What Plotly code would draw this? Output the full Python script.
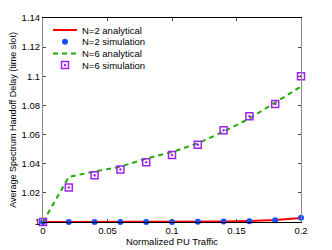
import plotly.graph_objects as go

x_vals = [0, 0.02, 0.04, 0.06, 0.08, 0.10, 0.12, 0.14, 0.16, 0.18, 0.20]
n2_analytical = [1.0, 1.0, 1.0, 1.0, 1.0, 1.0, 1.0002, 1.0004, 1.0007, 1.0013, 1.0028]
n2_simulation = [1.0, 1.0, 1.0, 1.0, 1.0, 1.0, 1.0001, 1.0003, 1.0006, 1.0012, 1.0030]
n6_analytical = [1.0, 1.031, 1.0346, 1.038, 1.0435, 1.048, 1.054, 1.062, 1.071, 1.082, 1.093]
n6_simulation = [1.0, 1.0237, 1.032, 1.036, 1.041, 1.046, 1.053, 1.063, 1.0726, 1.081, 1.100]

x_ticks = [0, 0.05, 0.1, 0.15, 0.2]
x_ticktext = ["0", "0.05", "0.1", "0.15", "0.2"]
y_ticks = [1.0, 1.02, 1.04, 1.06, 1.08, 1.1, 1.12, 1.14]
y_ticktext = ["1", "1.02", "1.04", "1.06", "1.08", "1.1", "1.12", "1.14"]

legend_names = ["N=2 analytical", "N=2 simulation", "N=6 analytical", "N=6 simulation"]

RED = "#ff0000"
BLUE = "#1a4cff"
GREEN = "#22aa00"
PURPLE = "#a020f0"

line_n2 = dict(color=RED, width=2)
line_n6 = dict(color=GREEN, width=2, dash="5px,4px")
mark_n2 = dict(color=BLUE, size=6, symbol="circle")
mark_n6 = dict(color=PURPLE, size=7, symbol="square-open-dot", line=dict(width=1.5, color=PURPLE))

fig = go.Figure()
fig.add_trace(go.Scatter(x=x_vals, y=n2_analytical, mode="lines", name=legend_names[0], line=line_n2))
fig.add_trace(go.Scatter(x=x_vals, y=n2_simulation, mode="markers", name=legend_names[1],
                         marker=mark_n2, cliponaxis=False))
fig.add_trace(go.Scatter(x=x_vals, y=n6_analytical, mode="lines", name=legend_names[2], line=line_n6))
fig.add_trace(go.Scatter(x=x_vals, y=n6_simulation, mode="markers", name=legend_names[3],
                         marker=mark_n6, cliponaxis=False))

# Compact legend (MATLAB-like spacing) drawn on an invisible overlay axis in pixel units
row_y = [12, 23.7, 35.4, 47.1]
sample_x0, sample_x1, text_x = 10, 34, 37
fig.add_trace(go.Scatter(x=[sample_x0, sample_x1], y=[row_y[0]] * 2, mode="lines", line=line_n2,
                         xaxis="x2", yaxis="y2", showlegend=False, hoverinfo="skip"))
fig.add_trace(go.Scatter(x=[(sample_x0 + sample_x1) / 2], y=[row_y[1]], mode="markers", marker=mark_n2,
                         xaxis="x2", yaxis="y2", showlegend=False, hoverinfo="skip"))
fig.add_trace(go.Scatter(x=[sample_x0, sample_x1], y=[row_y[2]] * 2, mode="lines", line=line_n6,
                         xaxis="x2", yaxis="y2", showlegend=False, hoverinfo="skip"))
fig.add_trace(go.Scatter(x=[(sample_x0 + sample_x1) / 2], y=[row_y[3]], mode="markers", marker=mark_n6,
                         xaxis="x2", yaxis="y2", showlegend=False, hoverinfo="skip"))
for name, yy in zip(legend_names, row_y):
    fig.add_annotation(x=text_x, y=yy, xref="x2", yref="y2", text=name, showarrow=False,
                       xanchor="left", yanchor="middle", font=dict(size=9.5))

font = "Liberation Sans, Arial, sans-serif"
# page has an 8px body margin, so the figure is offset by 8px
fig.update_layout(
    width=324, height=242,
    margin=dict(l=35, r=31, t=10, b=28),
    paper_bgcolor="white", plot_bgcolor="white",
    font=dict(family=font, size=9.5, color="black"),
    showlegend=False,
    xaxis=dict(range=[0, 0.2], tickvals=x_ticks, ticktext=x_ticktext, ticks="inside", ticklen=3,
               showline=True, linecolor="black", linewidth=1, mirror="ticks", showgrid=False,
               automargin=False, tickfont=dict(size=9.5),
               zeroline=False, title=dict(text="Normalized PU Traffic", standoff=2, font=dict(size=9.5))),
    yaxis=dict(range=[1.0, 1.14], tickvals=y_ticks, ticktext=y_ticktext, ticks="inside", ticklen=3,
               showline=True, linecolor="#888888", linewidth=1, mirror="ticks", showgrid=False,
               automargin=False, tickfont=dict(size=9.5),
               zeroline=False, title=dict(text="Average Spectrum Handoff Delay (time slot)", standoff=4,
                                          font=dict(size=9))),
    xaxis2=dict(range=[0, 258], overlaying="x", visible=False, fixedrange=True),
    yaxis2=dict(range=[204, 0], overlaying="y", visible=False, fixedrange=True),
)
fig.write_html("out.html")
